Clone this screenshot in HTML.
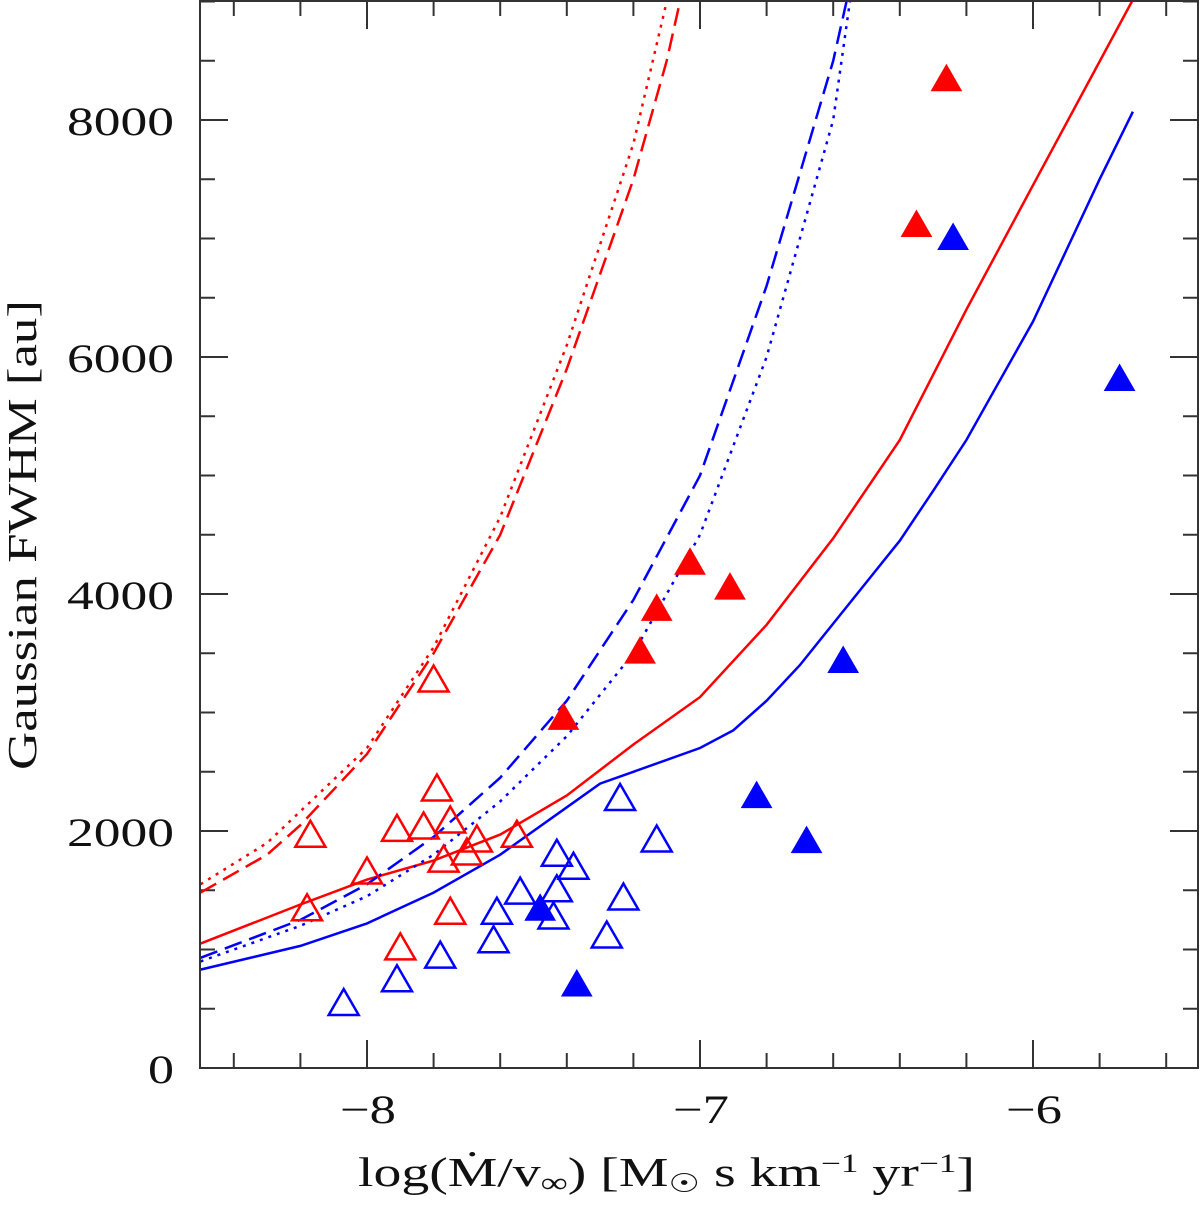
<!DOCTYPE html>
<html><head><meta charset="utf-8"><style>
html,body{margin:0;padding:0;background:#fff}
svg text{font-family:"Liberation Serif",serif;fill:#111}
</style></head><body>
<svg id="chart" width="1200" height="1201" xmlns="http://www.w3.org/2000/svg">
<g id="ticks"></g>
<g id="lines"></g>
<g id="marks"></g>
<rect x="200" y="1" width="998" height="1067" fill="none" stroke="#333" stroke-width="2"/>
<text x="358" y="1186" font-size="41" textLength="617" lengthAdjust="spacingAndGlyphs">log(Ṁ/v<tspan font-size="28" dy="6">∞</tspan><tspan dy="-6">) [M</tspan><tspan font-size="26" dy="6">☉</tspan><tspan dy="-6"> s km</tspan><tspan font-size="26" dy="-14">−1</tspan><tspan dy="14"> yr</tspan><tspan font-size="26" dy="-14">−1</tspan><tspan dy="14">]</tspan></text>
<text transform="translate(36,535) rotate(-90)" font-size="41" text-anchor="middle" textLength="470" lengthAdjust="spacingAndGlyphs">Gaussian FWHM [au]</text>
</svg>
<script>
const xTickVals=[-8,-7,-6];
const xTickLabels=["−8","−7","−6"];
const yTickVals=[0,2000,4000,6000,8000];
const yTickLabels=["0","2000","4000","6000","8000"];
const redOpenX=[-8.17,-8.18,-8.0,-7.90,-7.91,-7.83,-7.80,-7.79,-7.75,-7.77,-7.75,-7.70,-7.67,-7.55];
const redOpenY=[1960,1340,1650,1010,2010,2030,3270,2350,2080,1750,1310,1810,1920,1960];
const blueOpenX=[-8.07,-7.91,-7.78,-7.62,-7.61,-7.54,-7.44,-7.43,-7.43,-7.38,-7.28,-7.23,-7.24,-7.13];
const blueOpenY=[540,740,940,1070,1310,1480,1270,1500,1800,1690,1110,1430,2270,1920];
const redFillX=[-7.41,-7.18,-7.13,-7.03,-6.91,-6.35,-6.26];
const redFillY=[2950,3510,3870,4260,4050,7110,8340];
const blueFillX=[-7.48,-7.37,-6.83,-6.68,-6.57,-6.24,-5.74];
const blueFillY=[1340,700,2290,1910,3430,7000,5810];
const redSolidX=[-8.5,-8.2,-8.0,-7.8,-7.6,-7.4,-7.2,-7.0,-6.8,-6.6,-6.4,-6.2,-6.0,-5.703];
const redSolidY=[1050,1380,1590,1750,1970,2300,2730,3130,3740,4470,5300,6400,7450,9000];
const blueSolidX=[-8.5,-8.2,-8.0,-7.8,-7.6,-7.4,-7.3,-7.2,-7.0,-6.9,-6.8,-6.7,-6.6,-6.4,-6.3,-6.2,-6.1,-6.0,-5.9,-5.8,-5.7];
const blueSolidY=[830,1030,1220,1480,1800,2200,2400,2500,2700,2850,3100,3400,3750,4450,4870,5300,5800,6300,6900,7500,8070];
const redDashX=[-8.5,-8.3,-8.2,-8.0,-7.8,-7.6,-7.5,-7.4,-7.3,-7.2,-7.1,-7.06];
const redDashY=[1480,1800,2050,2650,3500,4500,5200,5900,6700,7500,8500,9000];
const redDotX=[-8.5,-8.3,-8.0,-7.8,-7.6,-7.4,-7.2,-7.1];
const redDotY=[1550,1900,2700,3550,4650,6100,7800,9000];
const blueDashX=[-8.5,-8.2,-8.0,-7.8,-7.6,-7.4,-7.2,-7.0,-6.8,-6.6,-6.56];
const blueDashY=[930,1250,1550,1950,2450,3100,3950,5000,6600,8500,9000];
const blueDotX=[-8.5,-8.2,-8.0,-7.8,-7.6,-7.4,-7.2,-7.0,-6.8,-6.6,-6.55];
const blueDotY=[900,1200,1450,1800,2250,2800,3500,4500,6000,8000,9000];

const NS="http://www.w3.org/2000/svg";
const X0=200,X1=1198,Y0=1068,Y1=1;
const xmin=-8.5,xmax=-8.5+(X1-X0)/333;
function sx(v){return 367+(v+8)*333;}
function sy(v){return 1068-v*0.1185;}
function mk(tag,attrs,parent){const e=document.createElementNS(NS,tag);for(const k in attrs)e.setAttribute(k,attrs[k]);parent.appendChild(e);return e;}

const tg=document.getElementById('ticks');
for(let i=-42;i<=-28;i++){const v=i/5;if(v<xmin||v>xmax)continue;const px=sx(v);const major=Math.abs(v-Math.round(v))<1e-6;const L=major?28:15;
 const t1=mk('line',{x1:px,y1:Y0,x2:px,y2:Y0-L,stroke:'#333','stroke-width':2},tg);
 
 
 const t2=mk('line',{x1:px,y1:Y1,x2:px,y2:Y1+L,stroke:'#333','stroke-width':2},tg);
 
 }
for(let v=0;v<=9000;v+=500){const py=sy(v);const major=v%2000===0;const L=major?28:15;
 const t1=mk('line',{x1:X0,y1:py,x2:X0+L,y2:py,stroke:'#333','stroke-width':2},tg);
 
 
 const t2=mk('line',{x1:X1,y1:py,x2:X1-L,y2:py,stroke:'#333','stroke-width':2},tg);
 
 }
xTickVals.forEach((v,i)=>{const t=mk('text',{x:sx(v)-27,y:1123,'font-size':40,textLength:56,lengthAdjust:'spacingAndGlyphs'},tg);t.textContent=xTickLabels[i];
 
 });
yTickVals.forEach((v,i)=>{const s=yTickLabels[i];const w=s.length*27-1;const t=mk('text',{x:174-w,y:sy(v)+15,'font-size':40,textLength:w,lengthAdjust:'spacingAndGlyphs'},tg);t.textContent=s;
 
 });

const lg=document.getElementById('lines');
function curve(xs,ys,color,dash,name){const pts=xs.map((x,i)=>sx(x).toFixed(1)+','+sy(ys[i]).toFixed(1)).join(' ');
 const p=mk('polyline',{points:pts,fill:'none',stroke:color,'stroke-width':2.5,'stroke-dasharray':dash},lg);
 
 }
curve(redSolidX,redSolidY,'#f00','none','red-solid-curve');
curve(blueSolidX,blueSolidY,'#00f','none','blue-solid-curve');
curve(redDashX,redDashY,'#f00','18,8','red-dashed-curve');
curve(redDotX,redDotY,'#f00','3,6','red-dotted-curve');
curve(blueDashX,blueDashY,'#00f','18,8','blue-dashed-curve');
curve(blueDotX,blueDotY,'#00f','3,6','blue-dotted-curve');

const mg=document.getElementById('marks');
function tri(xs,ys,color,filled,name){xs.forEach((x,i)=>{const cx=sx(x),cy=sy(ys[i]);
 const pts=[(cx)+','+(cy-15),(cx-15)+','+(cy+11),(cx+15)+','+(cy+11)].join(' ');
 const p=mk('polygon',{points:pts,fill:filled?color:'none',stroke:color,'stroke-width':filled?1:2.5,'stroke-linejoin':'miter'},mg);
 
 });}
tri(redOpenX,redOpenY,'#f00',false,'red-open-triangle');
tri(blueOpenX,blueOpenY,'#00f',false,'blue-open-triangle');
tri(redFillX,redFillY,'#f00',true,'red-filled-triangle');
tri(blueFillX,blueFillY,'#00f',true,'blue-filled-triangle');
</script>
</body></html>
